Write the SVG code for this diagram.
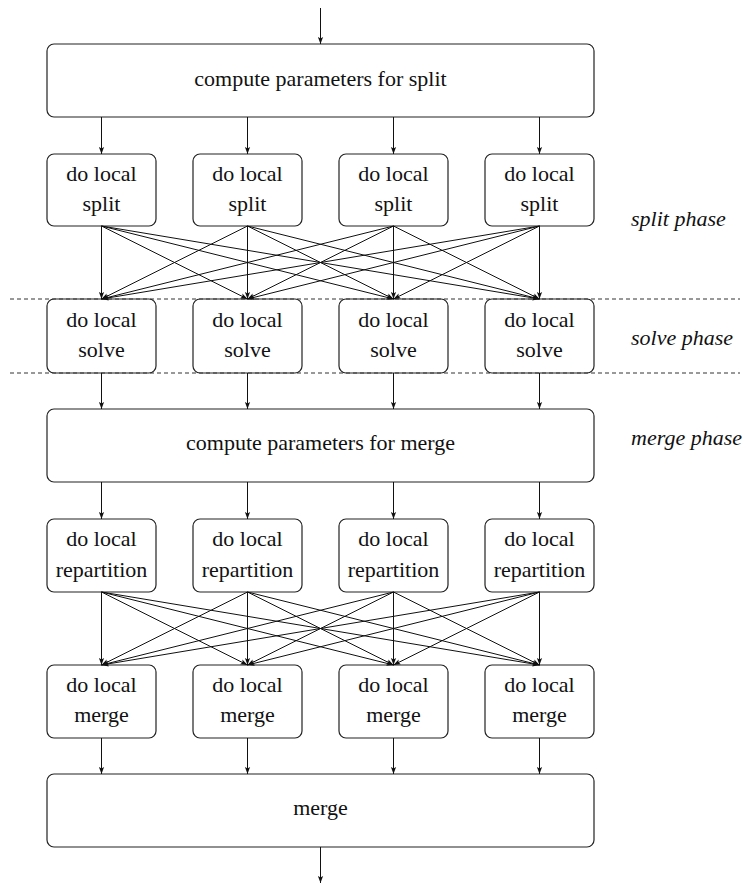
<svg xmlns="http://www.w3.org/2000/svg" width="746" height="884" viewBox="0 0 746 884">
  <defs>
    <marker id="arrow" markerUnits="userSpaceOnUse" markerWidth="8" markerHeight="6" refX="7" refY="3" orient="auto">
      <path d="M0,0.4 L7,3 L0,5.6 L1.5,3 Z" fill="#111"/>
    </marker>
    <style>
      .box { fill: #fff; stroke: #222; stroke-width: 1.2; }
      .lbl { font-family: "Liberation Serif", "Times New Roman", serif; font-size: 22px; fill: #111; text-anchor: middle; }
      .phase { font-family: "Liberation Serif", "Times New Roman", serif; font-size: 22px; font-style: italic; fill: #111; }
      .edge { stroke: #111; stroke-width: 1; fill: none; marker-end: url(#arrow); }
      .sep { stroke: #333; stroke-width: 1; stroke-dasharray: 4 3; }
    </style>
  </defs>
  <rect width="746" height="884" fill="#fff"/>

  <!-- top: split parameters -->
  <g id="params-split">
    <rect class="box" x="47" y="44" width="547" height="73" rx="7"/>
    <text class="lbl" x="320.5" y="86">compute parameters for split</text>
  </g>

  <!-- local split boxes -->
  <g id="split-1"><rect class="box" x="47" y="154" width="109" height="72" rx="7"/><text class="lbl" x="101.5" y="181">do local</text><text class="lbl" x="101.5" y="211">split</text></g>
  <g id="split-2"><rect class="box" x="193" y="154" width="109" height="72" rx="7"/><text class="lbl" x="247.5" y="181">do local</text><text class="lbl" x="247.5" y="211">split</text></g>
  <g id="split-3"><rect class="box" x="339" y="154" width="109" height="72" rx="7"/><text class="lbl" x="393.5" y="181">do local</text><text class="lbl" x="393.5" y="211">split</text></g>
  <g id="split-4"><rect class="box" x="485" y="154" width="109" height="72" rx="7"/><text class="lbl" x="539.5" y="181">do local</text><text class="lbl" x="539.5" y="211">split</text></g>

  <!-- local solve boxes -->
  <g id="solve-1"><rect class="box" x="47" y="299" width="109" height="74" rx="7"/><text class="lbl" x="101.5" y="327">do local</text><text class="lbl" x="101.5" y="357">solve</text></g>
  <g id="solve-2"><rect class="box" x="193" y="299" width="109" height="74" rx="7"/><text class="lbl" x="247.5" y="327">do local</text><text class="lbl" x="247.5" y="357">solve</text></g>
  <g id="solve-3"><rect class="box" x="339" y="299" width="109" height="74" rx="7"/><text class="lbl" x="393.5" y="327">do local</text><text class="lbl" x="393.5" y="357">solve</text></g>
  <g id="solve-4"><rect class="box" x="485" y="299" width="109" height="74" rx="7"/><text class="lbl" x="539.5" y="327">do local</text><text class="lbl" x="539.5" y="357">solve</text></g>

  <!-- merge parameters -->
  <g id="params-merge">
    <rect class="box" x="47" y="409" width="547" height="73" rx="7"/>
    <text class="lbl" x="320.5" y="450">compute parameters for merge</text>
  </g>

  <!-- local repartition boxes -->
  <g id="repart-1"><rect class="box" x="47" y="519" width="109" height="73" rx="7"/><text class="lbl" x="101.5" y="546">do local</text><text class="lbl" x="101.5" y="577">repartition</text></g>
  <g id="repart-2"><rect class="box" x="193" y="519" width="109" height="73" rx="7"/><text class="lbl" x="247.5" y="546">do local</text><text class="lbl" x="247.5" y="577">repartition</text></g>
  <g id="repart-3"><rect class="box" x="339" y="519" width="109" height="73" rx="7"/><text class="lbl" x="393.5" y="546">do local</text><text class="lbl" x="393.5" y="577">repartition</text></g>
  <g id="repart-4"><rect class="box" x="485" y="519" width="109" height="73" rx="7"/><text class="lbl" x="539.5" y="546">do local</text><text class="lbl" x="539.5" y="577">repartition</text></g>

  <!-- local merge boxes -->
  <g id="lmerge-1"><rect class="box" x="47" y="665" width="109" height="73" rx="7"/><text class="lbl" x="101.5" y="692">do local</text><text class="lbl" x="101.5" y="722">merge</text></g>
  <g id="lmerge-2"><rect class="box" x="193" y="665" width="109" height="73" rx="7"/><text class="lbl" x="247.5" y="692">do local</text><text class="lbl" x="247.5" y="722">merge</text></g>
  <g id="lmerge-3"><rect class="box" x="339" y="665" width="109" height="73" rx="7"/><text class="lbl" x="393.5" y="692">do local</text><text class="lbl" x="393.5" y="722">merge</text></g>
  <g id="lmerge-4"><rect class="box" x="485" y="665" width="109" height="73" rx="7"/><text class="lbl" x="539.5" y="692">do local</text><text class="lbl" x="539.5" y="722">merge</text></g>

  <!-- final merge -->
  <g id="merge-final">
    <rect class="box" x="47" y="774" width="547" height="73" rx="7"/>
    <text class="lbl" x="320.5" y="815">merge</text>
  </g>

  <!-- phase separators and labels -->
  <g id="phases">
    <line class="sep" x1="10" y1="299" x2="740" y2="299"/>
    <line class="sep" x1="10" y1="373" x2="740" y2="373"/>
    <text class="phase" x="631" y="226">split phase</text>
    <text class="phase" x="631" y="345">solve phase</text>
    <text class="phase" x="631" y="445">merge phase</text>
  </g>

  <!-- connectors -->
  <g id="connectors">
    <line class="edge" x1="320.5" y1="8" x2="320.5" y2="44"/>
    <!-- split parameters to local splits -->
    <line class="edge" x1="101.5" y1="117" x2="101.5" y2="154"/>
    <line class="edge" x1="247.5" y1="117" x2="247.5" y2="154"/>
    <line class="edge" x1="393.5" y1="117" x2="393.5" y2="154"/>
    <line class="edge" x1="539.5" y1="117" x2="539.5" y2="154"/>
    <!-- all-to-all exchange after split -->
    <line class="edge" x1="101.5" y1="226" x2="101.5" y2="299"/>
    <line class="edge" x1="101.5" y1="226" x2="247.5" y2="299"/>
    <line class="edge" x1="101.5" y1="226" x2="393.5" y2="299"/>
    <line class="edge" x1="101.5" y1="226" x2="539.5" y2="299"/>
    <line class="edge" x1="247.5" y1="226" x2="101.5" y2="299"/>
    <line class="edge" x1="247.5" y1="226" x2="247.5" y2="299"/>
    <line class="edge" x1="247.5" y1="226" x2="393.5" y2="299"/>
    <line class="edge" x1="247.5" y1="226" x2="539.5" y2="299"/>
    <line class="edge" x1="393.5" y1="226" x2="101.5" y2="299"/>
    <line class="edge" x1="393.5" y1="226" x2="247.5" y2="299"/>
    <line class="edge" x1="393.5" y1="226" x2="393.5" y2="299"/>
    <line class="edge" x1="393.5" y1="226" x2="539.5" y2="299"/>
    <line class="edge" x1="539.5" y1="226" x2="101.5" y2="299"/>
    <line class="edge" x1="539.5" y1="226" x2="247.5" y2="299"/>
    <line class="edge" x1="539.5" y1="226" x2="393.5" y2="299"/>
    <line class="edge" x1="539.5" y1="226" x2="539.5" y2="299"/>
    <!-- local solves to merge parameters -->
    <line class="edge" x1="101.5" y1="373" x2="101.5" y2="409"/>
    <line class="edge" x1="247.5" y1="373" x2="247.5" y2="409"/>
    <line class="edge" x1="393.5" y1="373" x2="393.5" y2="409"/>
    <line class="edge" x1="539.5" y1="373" x2="539.5" y2="409"/>
    <!-- merge parameters to repartitions -->
    <line class="edge" x1="101.5" y1="482" x2="101.5" y2="519"/>
    <line class="edge" x1="247.5" y1="482" x2="247.5" y2="519"/>
    <line class="edge" x1="393.5" y1="482" x2="393.5" y2="519"/>
    <line class="edge" x1="539.5" y1="482" x2="539.5" y2="519"/>
    <!-- all-to-all exchange after repartition -->
    <line class="edge" x1="101.5" y1="592" x2="101.5" y2="665"/>
    <line class="edge" x1="101.5" y1="592" x2="247.5" y2="665"/>
    <line class="edge" x1="101.5" y1="592" x2="393.5" y2="665"/>
    <line class="edge" x1="101.5" y1="592" x2="539.5" y2="665"/>
    <line class="edge" x1="247.5" y1="592" x2="101.5" y2="665"/>
    <line class="edge" x1="247.5" y1="592" x2="247.5" y2="665"/>
    <line class="edge" x1="247.5" y1="592" x2="393.5" y2="665"/>
    <line class="edge" x1="247.5" y1="592" x2="539.5" y2="665"/>
    <line class="edge" x1="393.5" y1="592" x2="101.5" y2="665"/>
    <line class="edge" x1="393.5" y1="592" x2="247.5" y2="665"/>
    <line class="edge" x1="393.5" y1="592" x2="393.5" y2="665"/>
    <line class="edge" x1="393.5" y1="592" x2="539.5" y2="665"/>
    <line class="edge" x1="539.5" y1="592" x2="101.5" y2="665"/>
    <line class="edge" x1="539.5" y1="592" x2="247.5" y2="665"/>
    <line class="edge" x1="539.5" y1="592" x2="393.5" y2="665"/>
    <line class="edge" x1="539.5" y1="592" x2="539.5" y2="665"/>
    <!-- local merges to final merge -->
    <line class="edge" x1="101.5" y1="738" x2="101.5" y2="774"/>
    <line class="edge" x1="247.5" y1="738" x2="247.5" y2="774"/>
    <line class="edge" x1="393.5" y1="738" x2="393.5" y2="774"/>
    <line class="edge" x1="539.5" y1="738" x2="539.5" y2="774"/>
    <line class="edge" x1="320.5" y1="847" x2="320.5" y2="883"/>
  </g>
</svg>
